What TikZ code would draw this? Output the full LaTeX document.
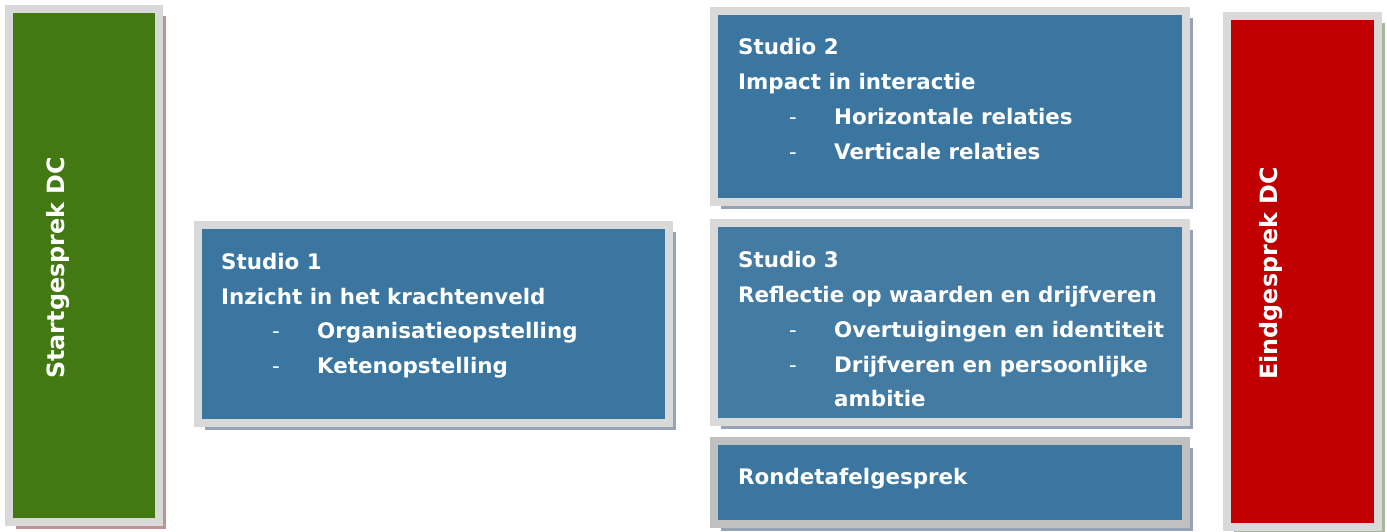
\documentclass[tikz,border=0pt]{standalone}
\usepackage{fontspec}
\setmainfont{DejaVu Sans}
\usepackage{tikz}
\usetikzlibrary{shadows}
\definecolor{startgreen}{HTML}{427913}
\definecolor{studioblue}{HTML}{3A76A0}
\definecolor{studiolight}{HTML}{447BA2}
\definecolor{endred}{HTML}{C00000}
\definecolor{framegray}{HTML}{D9D9D9}
\definecolor{framedark}{HTML}{C0C0C0}
\definecolor{shadeblue}{HTML}{96A3B5}
\definecolor{shadered}{HTML}{BC9494}
\definecolor{shadegreen}{HTML}{A9B799}
\def\boxfont{\fontsize{21.4}{34.7}\selectfont\bfseries}
\newcommand\listentry[1]{\makebox[96pt][l]{\hspace*{51pt}{\mdseries -}}#1}

\begin{document}
\begin{tikzpicture}[x=1pt,y=-1pt,
    panel/.style={draw=framegray,line width=8pt,inner sep=0pt,outer sep=0pt,
      anchor=north west,drop shadow={shadow xshift=7pt,shadow yshift=-7pt,fill=#1,opacity=1}},
    panel/.default=shadeblue,
    label/.style={text=white,font=\boxfont,align=left,anchor=north west,inner sep=0pt},
    sidelabel/.style={text=white,font=\fontsize{23.8}{28}\selectfont\bfseries,rotate=90,inner sep=0pt}]
  \useasboundingbox (0,0) rectangle (1387,531);
  % side panels
  \node[panel=shadered,fill=startgreen,minimum width=150pt,minimum height=513pt] (start) at (9,9) {};
  \node[panel=shadegreen,fill=endred,minimum width=151pt,minimum height=511pt] (eind) at (1227,16) {};
  % studios
  \node[panel,fill=studioblue,minimum width=471pt,minimum height=198pt] (studio1) at (198,225) {};
  \node[panel,fill=studioblue,minimum width=472pt,minimum height=191pt] (studio2) at (714,11) {};
  \node[panel,fill=studiolight,minimum width=472pt,minimum height=199pt] (studio3) at (714,223) {};
  \node[panel,draw=framedark,fill=studioblue,minimum width=472pt,minimum height=83pt] (ronde) at (714,441) {};

  \node[sidelabel] (startlabel) at (58,268) {Startgesprek DC};
  \node[sidelabel] (eindlabel) at (1271,273.5) {Eindgesprek DC};

  \node[label] (studio1text) at (221,253) {Studio 1\\Inzicht in het krachtenveld\\
    \listentry{Organisatieopstelling}\\\listentry{Ketenopstelling}};
  \node[label] (studio2text) at (738,38.5) {Studio 2\\Impact in interactie\\
    \listentry{Horizontale relaties}\\\listentry{Verticale relaties}};
  \node[label] (studio3text) at (738,251.5) {Studio 3\\Reflectie op waarden en drijfveren\\
    \listentry{Overtuigingen en identiteit}\\\listentry{Drijfveren en persoonlijke}\\
    \hspace*{96pt}ambitie};
  \node[label] (rondetext) at (738,468.5) {Rondetafelgesprek};
\end{tikzpicture}
\end{document}
